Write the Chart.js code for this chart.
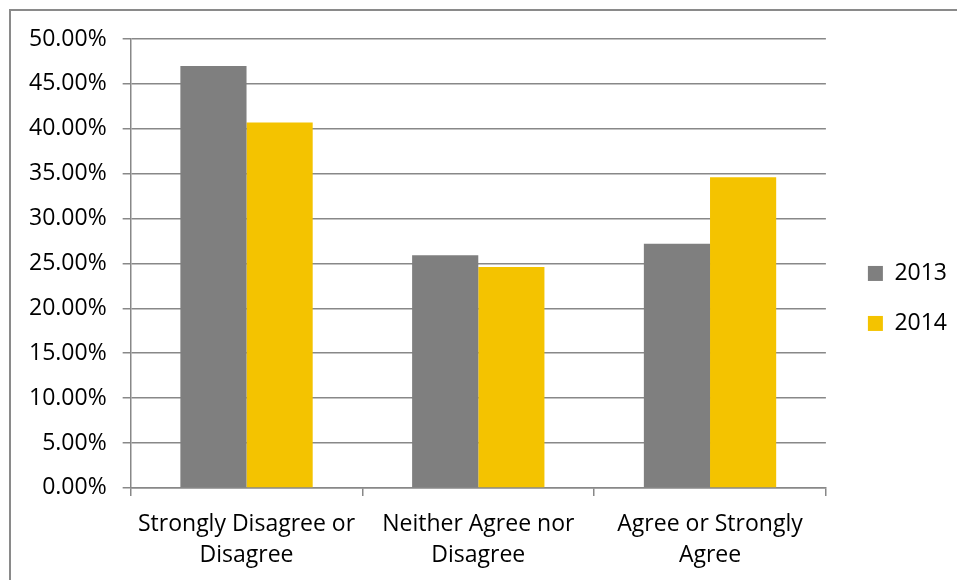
<!DOCTYPE html>
<html>
<head>
<meta charset="utf-8">
<script src="https://cdn.jsdelivr.net/npm/chart.js@4/dist/chart.umd.min.js"></script>
<style>
  body { margin: 0; background: #fff; }
  #wrap { position: relative; width: 957px; height: 580px; overflow: hidden; }
  /* chart frame, only left and top edges are inside the picture */
  #frame { position: absolute; left: 9px; top: 9px; width: 1000px; height: 700px;
           border-left: 2px solid #8a8a8a; border-top: 2px solid #8a8a8a; }
  canvas { position: absolute; left: 0; top: 0; }
</style>
</head>
<body>
<div id="wrap">
  <div id="frame"></div>
  <canvas id="myChart" width="957" height="580"></canvas>
</div>
<script>
// categories and values
const categories = [
  ['Strongly Disagree or', 'Disagree'],
  ['Neither Agree nor', 'Disagree'],
  ['Agree or Strongly', 'Agree']
];
const seriesNames = ['2013', '2014'];
const values2013 = [47.0, 25.9, 27.2];
const values2014 = [40.7, 24.6, 34.6];
const yTicks = [0, 5, 10, 15, 20, 25, 30, 35, 40, 45, 50];

const gridColor = '#888888';
const fontFamily = "'Open Sans', sans-serif";

const ctx = document.getElementById('myChart');
const myChart = new Chart(ctx, {
  type: 'bar',
  data: {
    labels: categories,
    datasets: [{
      label: seriesNames[0],
      data: values2013,
      backgroundColor: '#7f7f7f'
    }, {
      label: seriesNames[1],
      data: values2014,
      backgroundColor: '#f4c300'
    }]
  },
  options: {
    responsive: false,
    animation: false,
    devicePixelRatio: 1,
    layout: {
      padding: { left: 13, top: 39, right: 0, bottom: -4 }
    },
    datasets: {
      bar: { categoryPercentage: 0.571, barPercentage: 1.0 }
    },
    scales: {
      x: {
        offset: true,
        grid: { offset: true, drawOnChartArea: false, drawTicks: true, tickLength: 8, color: gridColor, lineWidth: 1.5 },
        border: { display: true, color: gridColor, width: 1.5 },
        ticks: {
          color: '#000',
          padding: 13,
          maxRotation: 0,
          font: { family: fontFamily, size: 23, lineHeight: 1.35 }
        }
      },
      y: {
        min: 0,
        max: 50,
        afterBuildTicks: (scale) => { scale.ticks = yTicks.map(v => ({ value: v })); },
        grid: { color: gridColor, lineWidth: 1.5, tickLength: 8 },
        border: { display: true, color: gridColor, width: 1.5 },
        ticks: {
          color: '#000',
          padding: 16,
          font: { family: fontFamily, size: 23 },
          callback: (v) => v.toFixed(2) + '%'
        }
      },
      // empty spacer between the plot and the legend
      gap: {
        type: 'linear',
        position: 'right',
        display: true,
        grid: { display: false },
        border: { display: false },
        ticks: { display: false },
        afterFit: (scale) => { scale.width = 15; }
      }
    },
    plugins: {
      legend: {
        position: 'right',
        fullSize: false,
        // empty title only pushes the entries down to where they sit in the picture
        title: { display: true, text: '', font: { size: 10 }, padding: { top: 58, bottom: 0 } },
        labels: {
          color: '#000',
          boxWidth: 15,
          boxHeight: 15,
          padding: 27,
          font: { family: fontFamily, size: 23 }
        }
      },
      tooltip: { enabled: false }
    }
  }
});
</script>
</body>
</html>
